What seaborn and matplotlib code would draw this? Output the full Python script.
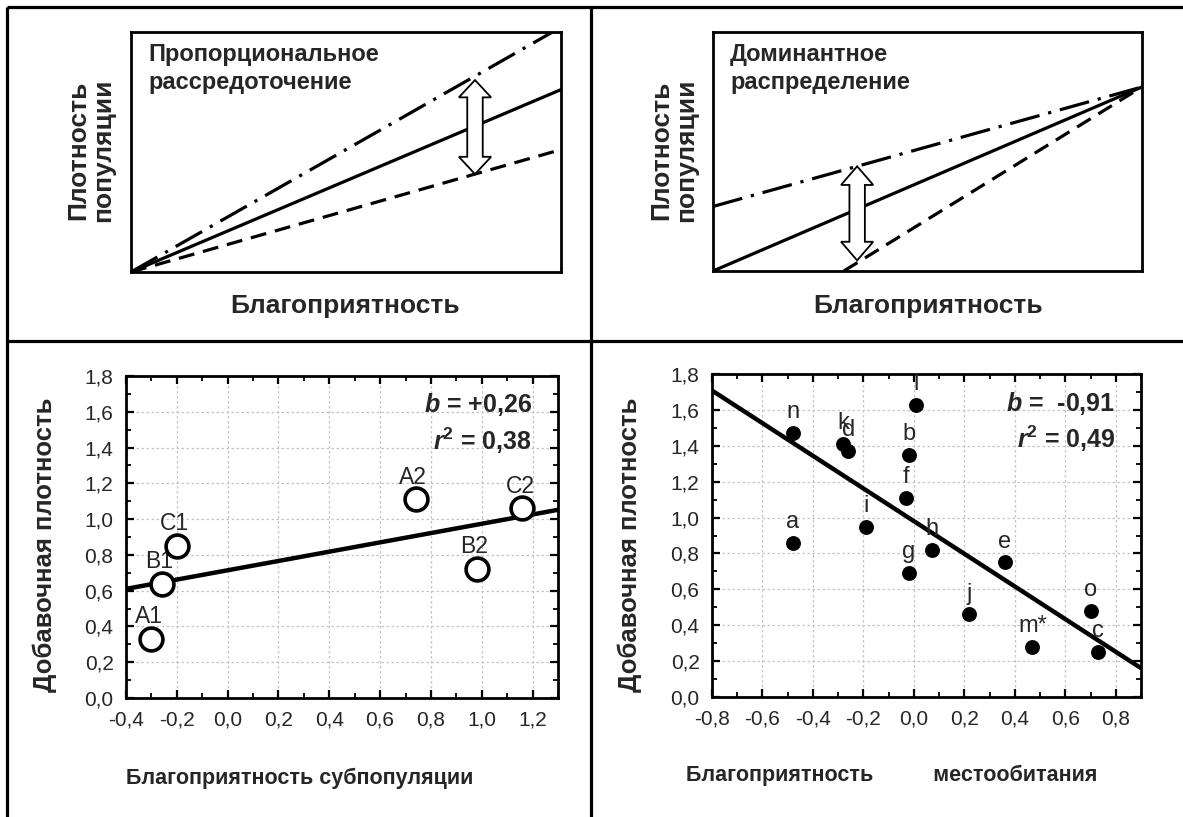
import numpy as np
import pandas as pd
import matplotlib
matplotlib.use("Agg")
import matplotlib.pyplot as plt
from matplotlib.lines import Line2D
from matplotlib.patches import Polygon
import seaborn as sns

sns.set_theme(style="white")
plt.rcParams["font.family"] = ["Liberation Sans", "DejaVu Sans"]
plt.rcParams["mathtext.fontset"] = "custom"
plt.rcParams["mathtext.rm"] = "Liberation Sans:bold"
plt.rcParams["mathtext.bf"] = "Liberation Sans:bold"
plt.rcParams["mathtext.it"] = "Liberation Sans:italic:bold"
plt.rcParams["mathtext.bfit"] = "Liberation Sans:italic:bold"

# ---- conceptual panels (normalised favourability / density) ----
prop_x = [0.0, 1.0]
prop_solid = [0.0, 0.76]
prop_dashdot = [0.0, 1.02]
prop_dashed = [0.0, 0.51]
prop_arrow_x = 0.80

dom_x = [0.0, 1.0]
dom_solid = [0.0, 0.77]
dom_dashdot = [0.27, 0.77]
dom_dashed_x = [0.305, 1.0]
dom_dashed = [0.0, 0.77]
dom_arrow_x = 0.336

# ---- subpopulations ----
sub_labels = ["A1", "B1", "C1", "A2", "B2", "C2"]
sub_x = [-0.30, -0.26, -0.20, 0.74, 0.98, 1.16]
sub_y = [0.33, 0.64, 0.85, 1.11, 0.72, 1.06]
sub_b = 0.26
sub_a = 0.714
sub_r2 = 0.38

# ---- habitats ----
hab_labels = ["n", "a", "k", "d", "i", "l", "b", "f", "g", "h", "e", "j", "m*", "o", "c"]
hab_x = [-0.48, -0.48, -0.28, -0.26, -0.19, 0.01, -0.02, -0.03, -0.02, 0.07, 0.36, 0.22, 0.47, 0.70, 0.73]
hab_y = [1.47, 0.86, 1.41, 1.37, 0.95, 1.63, 1.35, 1.11, 0.69, 0.82, 0.75, 0.46, 0.28, 0.48, 0.25]
hab_b = -0.91
hab_a = 0.98
hab_r2 = 0.49

y_ticks = [0.0, 0.2, 0.4, 0.6, 0.8, 1.0, 1.2, 1.4, 1.6, 1.8]
sub_xticks = [-0.4, -0.2, 0.0, 0.2, 0.4, 0.6, 0.8, 1.0, 1.2]
hab_xticks = [-0.8, -0.6, -0.4, -0.2, 0.0, 0.2, 0.4, 0.6, 0.8]

W, H = 1183, 817
fig = plt.figure(figsize=(W / 100, H / 100), dpi=100)


def box(left, top, right, bottom):
    return [left / W, 1 - bottom / H, (right - left) / W, (bottom - top) / H]


def ftext(x, y, s, **kw):
    fig.text(x / W, 1 - y / H, s, **kw)


def comma(v, digits=1):
    return f"{v:.{digits}f}".replace(".", ",")


# cell frame
frame_kw = dict(color="black", lw=2.3, solid_capstyle="butt")
for xs, ys in [([7, W], [7, 7]), ([7, 7], [7, H]), ([591, 591], [7, H]), ([7, W], [341, 341])]:
    fig.add_artist(Line2D([x / W for x in xs], [1 - y / H for y in ys], **frame_kw))

DASHED = (0, (5.0, 2.8))
DASHDOT = (0, (9.5, 2.8, 1.0, 2.8))
LW = 2.3


def double_arrow(ax, x, y0, y1, shaft=0.036, head=0.075, head_l=0.072):
    sw, hw = shaft / 2, head / 2
    pts = [(x, y1), (x + hw, y1 - head_l), (x + sw, y1 - head_l), (x + sw, y0 + head_l),
           (x + hw, y0 + head_l), (x, y0), (x - hw, y0 + head_l), (x - sw, y0 + head_l),
           (x - sw, y1 - head_l), (x - hw, y1 - head_l)]
    ax.add_patch(Polygon(pts, closed=True, transform=ax.transAxes, fc="white",
                         ec="black", lw=1.3, zorder=5))


def concept_axes(ax):
    ax.set_xlim(0, 1)
    ax.set_ylim(0, 1)
    ax.set_xticks([])
    ax.set_yticks([])
    ax.set_xlabel("")
    ax.set_ylabel("")
    for s in ax.spines.values():
        s.set_color("black")
        s.set_linewidth(2.0)


IN_FS = 17
TOP_LAB_FS = 19

# ---- top-left: proportional dispersion ----
ax1 = fig.add_axes(box(131, 32, 561, 272))
sns.lineplot(x=prop_x, y=prop_solid, ax=ax1, color="black", lw=LW)
sns.lineplot(x=prop_x, y=prop_dashdot, ax=ax1, color="black", lw=LW, linestyle=DASHDOT)
sns.lineplot(x=prop_x, y=prop_dashed, ax=ax1, color="black", lw=LW, linestyle=DASHED)
concept_axes(ax1)
double_arrow(ax1, prop_arrow_x, prop_dashed[1] * prop_arrow_x, prop_dashdot[1] * prop_arrow_x * 0.98)
ax1.text(0.04, 0.955, "Пропорциональное\nрассредоточение", transform=ax1.transAxes,
         ha="left", va="top", fontsize=IN_FS, fontweight="bold", linespacing=1.3)
ftext(345, 306, "Благоприятность", ha="center", va="center", fontsize=TOP_LAB_FS, fontweight="bold")
ftext(91, 150, "Плотность\nпопуляции", ha="center", va="center", rotation=90,
      fontsize=TOP_LAB_FS, fontweight="bold", linespacing=1.05)

# ---- top-right: dominant distribution ----
ax2 = fig.add_axes(box(713, 32, 1142, 271))
sns.lineplot(x=dom_x, y=dom_solid, ax=ax2, color="black", lw=LW)
sns.lineplot(x=dom_x, y=dom_dashdot, ax=ax2, color="black", lw=LW, linestyle=DASHDOT)
sns.lineplot(x=dom_dashed_x, y=dom_dashed, ax=ax2, color="black", lw=LW, linestyle=DASHED)
concept_axes(ax2)
slope_dd = (dom_dashdot[1] - dom_dashdot[0]) / (dom_x[1] - dom_x[0])
slope_da = (dom_dashed[1] - dom_dashed[0]) / (dom_dashed_x[1] - dom_dashed_x[0])
double_arrow(ax2, dom_arrow_x, (dom_arrow_x - dom_dashed_x[0]) * slope_da + 0.01,
             dom_dashdot[0] + slope_dd * dom_arrow_x, head_l=0.078)
ax2.text(0.04, 0.955, "Доминантное\nраспределение", transform=ax2.transAxes,
         ha="left", va="top", fontsize=IN_FS, fontweight="bold", linespacing=1.3)
ftext(928, 306, "Благоприятность", ha="center", va="center", fontsize=TOP_LAB_FS, fontweight="bold")
ftext(674, 150, "Плотность\nпопуляции", ha="center", va="center", rotation=90,
      fontsize=TOP_LAB_FS, fontweight="bold", linespacing=1.05)


def scatter_axes(ax, xticks, xlim):
    ax.set_xlim(*xlim)
    ax.set_ylim(0, 1.8)
    ax.set_xticks(xticks)
    ax.set_xticklabels([comma(v) for v in xticks])
    ax.set_yticks(y_ticks)
    ax.set_yticklabels([comma(v) for v in y_ticks])
    ax.set_xticks(np.arange(xlim[0], xlim[1] + 1e-9, 0.1), minor=True)
    ax.set_yticks(np.arange(0, 1.8 + 1e-9, 0.1), minor=True)
    ax.tick_params(which="both", direction="in", top=True, right=True, bottom=True, left=True,
                   color="black")
    ax.tick_params(which="major", length=6, width=1.6, labelsize=15, pad=9)
    ax.tick_params(which="minor", length=3.5, width=1.3)
    ax.grid(True, which="major", color="#c4c4c4", linestyle=(0, (2, 2)), lw=0.9)
    ax.set_axisbelow(True)
    ax.set_xlabel("")
    ax.set_ylabel("")
    for s in ax.spines.values():
        s.set_color("black")
        s.set_linewidth(2.0)


ANN_FS = 18
BOT_YLAB_FS = 18.5
BOT_XLAB_FS = 15.5

# ---- bottom-left: subpopulations ----
ax3 = fig.add_axes(box(126, 376, 558, 698))
xl3 = (-0.4, 1.3)
fit_x3 = np.array(xl3)
sns.lineplot(x=fit_x3, y=sub_a + sub_b * fit_x3, ax=ax3, color="black", lw=3.2)
sns.scatterplot(x=sub_x, y=sub_y, ax=ax3, s=270, facecolor="white", edgecolor="black",
                linewidth=2.6, zorder=4, clip_on=False)
scatter_axes(ax3, sub_xticks, xl3)
for lab, x, y in zip(sub_labels, sub_x, sub_y):
    ax3.text(x - 0.01, y + 0.06, lab, ha="center", va="bottom", fontsize=16.5, zorder=3)
ax3.text(0.94, 0.91, r"$\mathbfit{b}$ = +" + comma(sub_b, 2), transform=ax3.transAxes,
         ha="right", va="center", fontsize=ANN_FS, fontweight="bold")
ax3.text(0.94, 0.80, r"$\mathbfit{r}^{\mathbf{2}}$ = " + comma(sub_r2, 2),
         transform=ax3.transAxes, ha="right", va="center", fontsize=ANN_FS, fontweight="bold")
ftext(45, 545, "Добавочная плотность", ha="center", va="center", rotation=90,
      fontsize=BOT_YLAB_FS, fontweight="bold")
ftext(300, 778, "Благоприятность субпопуляции", ha="center", va="center",
      fontsize=BOT_XLAB_FS, fontweight="bold")

# ---- bottom-right: habitats ----
ax4 = fig.add_axes(box(712, 374, 1141, 697))
xl4 = (-0.8, 0.9)
fit_x4 = np.array(xl4)
sns.lineplot(x=fit_x4, y=hab_a + hab_b * fit_x4, ax=ax4, color="black", lw=3.2)
sns.scatterplot(x=hab_x, y=hab_y, ax=ax4, s=115, color="black", edgecolor="black",
                linewidth=0, zorder=4)
scatter_axes(ax4, hab_xticks, xl4)
for lab, x, y in zip(hab_labels, hab_x, hab_y):
    ax4.text(x, y + 0.055, lab, ha="center", va="bottom", fontsize=17, zorder=3)
ax4.text(0.94, 0.91, r"$\mathbfit{b}$ =  " + comma(hab_b, 2),
         transform=ax4.transAxes, ha="right", va="center", fontsize=ANN_FS, fontweight="bold")
ax4.text(0.94, 0.80, r"$\mathbfit{r}^{\mathbf{2}}$ = " + comma(hab_r2, 2),
         transform=ax4.transAxes, ha="right", va="center", fontsize=ANN_FS, fontweight="bold")
ftext(630, 545, "Добавочная плотность", ha="center", va="center", rotation=90,
      fontsize=BOT_YLAB_FS, fontweight="bold")
ftext(892, 775, "Благоприятность          местообитания", ha="center", va="center",
      fontsize=BOT_XLAB_FS, fontweight="bold")

fig.savefig("out.png", dpi=100)
